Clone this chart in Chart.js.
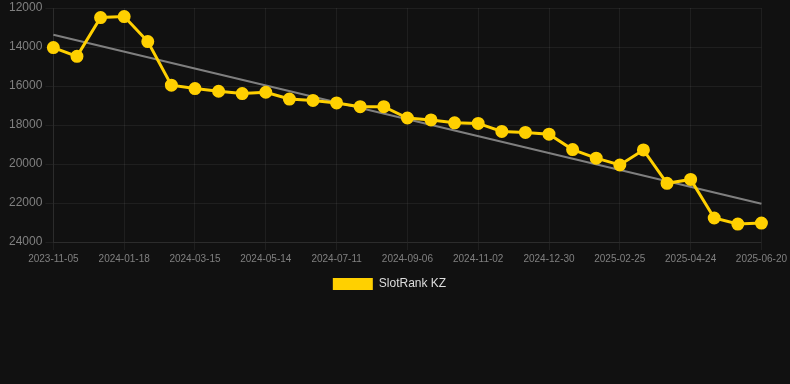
<!DOCTYPE html>
<html>
<head>
<meta charset="utf-8">
<script src="https://cdn.jsdelivr.net/npm/chart.js@4"></script>
<style>
    html, body { margin: 0; padding: 0; background: #111111; }
    .wrap { width: 790px; height: 300px; }
</style>
</head>
<body>
<div class="wrap"><canvas id="rankChart"></canvas></div>
<script>
// dates on the x axis (every third one is labelled)
const dates = [
    '2023-11-05', '2023-11-29', '2023-12-24', '2024-01-18', '2024-02-06', '2024-02-25',
    '2024-03-15', '2024-04-04', '2024-04-24', '2024-05-14', '2024-06-02', '2024-06-21',
    '2024-07-11', '2024-07-30', '2024-08-18', '2024-09-06', '2024-09-25', '2024-10-14',
    '2024-11-02', '2024-11-21', '2024-12-10', '2024-12-30', '2025-01-18', '2025-02-06',
    '2025-02-25', '2025-03-16', '2025-04-04', '2025-04-24', '2025-05-13', '2025-06-01',
    '2025-06-20'
];

// rank of the slot in KZ
const rankKZ = [
    14030, 14480, 12490, 12440, 13720, 15960, 16130, 16270, 16390, 16320,
    16670, 16740, 16870, 17060, 17060, 17640, 17740, 17890, 17920, 18330,
    18380, 18470, 19260, 19700, 20050, 19280, 20990, 20790, 22770, 23080,
    23030
];

// trend line: only the two ends are known, the library joins them
const trendStart = 13370;
const trendEnd = 22040;
const trend = dates.map((d, i) => i === 0 ? trendStart : (i === dates.length - 1 ? trendEnd : null));

const yTicks = [12000, 14000, 16000, 18000, 20000, 22000, 24000];

(function() {
    'use strict';
    const ctx = document.getElementById('rankChart').getContext('2d');
    const tickColor = '#808080';
    const gridColor = 'rgba(255, 255, 255, 0.06)';

    new Chart(ctx, {
        type: 'line',
        data: {
            labels: dates,
            datasets: [
                {
                    label: 'SlotRank KZ',
                    data: rankKZ,
                    borderColor: '#ffd000',
                    backgroundColor: '#ffd000',
                    borderWidth: 3,
                    pointRadius: 5,
                    pointHoverRadius: 5,
                    pointBackgroundColor: '#ffd000',
                    pointBorderColor: '#ffd000',
                    tension: 0,
                    order: 1
                },
                {
                    label: 'trend',
                    data: trend,
                    borderColor: 'rgba(140, 140, 140, 0.9)',
                    borderWidth: 2,
                    pointRadius: 0,
                    spanGaps: true,
                    order: 2
                }
            ]
        },
        options: {
            responsive: true,
            maintainAspectRatio: false,
            animation: false,
            layout: { padding: { top: -2, left: 6, right: 17 } },
            plugins: {
                tooltip: { enabled: false },
                legend: {
                    position: 'bottom',
                    labels: {
                        color: '#dddddd',
                        boxWidth: 40,
                        boxHeight: 12,
                        font: { size: 12 },
                        generateLabels: chart => Chart.defaults.plugins.legend.labels.generateLabels(chart)
                            .filter(item => item.text !== 'trend')
                            .map(item => Object.assign(item, { lineWidth: 0 }))
                    }
                }
            },
            scales: {
                x: {
                    grid: { color: gridColor, tickColor: gridColor },
                    border: { color: gridColor },
                    ticks: {
                        color: tickColor,
                        font: { size: 10 },
                        autoSkip: false,
                        maxRotation: 0,
                        callback: function(value, index) {
                            return index % 3 === 0 ? this.getLabelForValue(value) : null;
                        }
                    }
                },
                y: {
                    reverse: true,
                    min: yTicks[0],
                    max: yTicks[yTicks.length - 1],
                    grid: { color: gridColor, tickColor: gridColor },
                    border: { color: gridColor },
                    afterBuildTicks: axis => { axis.ticks = yTicks.map(v => ({ value: v })); },
                    ticks: {
                        color: tickColor,
                        font: { size: 12, lineHeight: 0.2 },
                        callback: value => String(value)
                    }
                }
            }
        }
    });
})();
</script>
</body>
</html>
